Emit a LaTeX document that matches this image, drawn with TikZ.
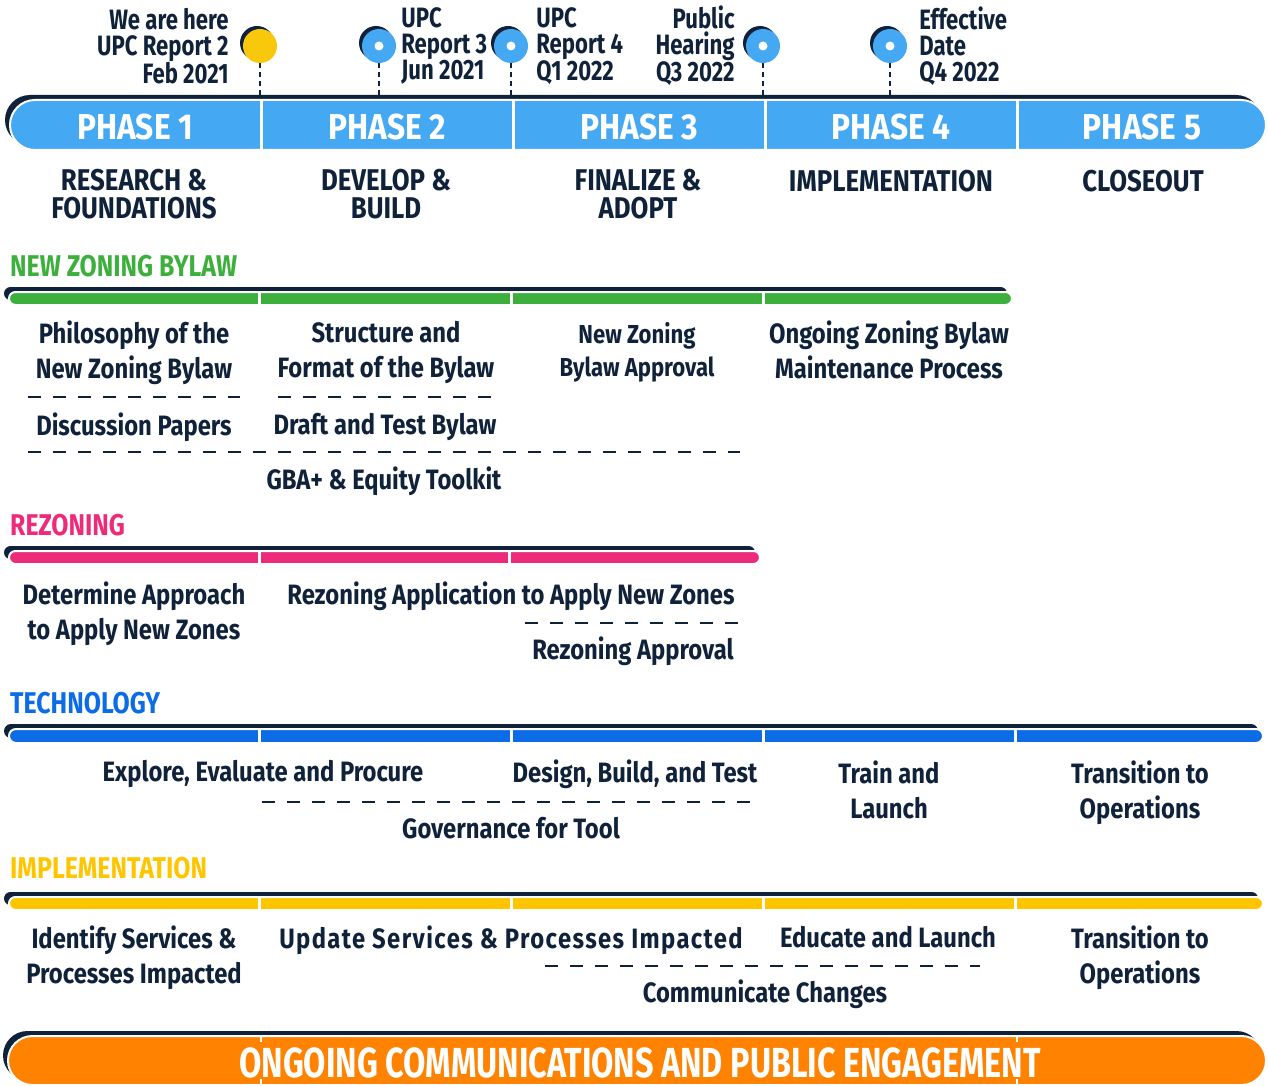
\documentclass[tikz,border=0pt]{standalone}
\usepackage{fontspec}
\setmainfont{Fira Sans}[FakeStretch=0.85]
\usetikzlibrary{positioning}

\definecolor{ink}{HTML}{10223A}
\definecolor{phaseblue}{HTML}{45A8F2}
\definecolor{zgreen}{HTML}{3CAF3C}
\definecolor{rpink}{HTML}{EC2B7B}
\definecolor{tblue}{HTML}{0B6CE6}
\definecolor{iyellow}{HTML}{FFC600}
\definecolor{corange}{HTML}{FF8300}
\definecolor{sun}{HTML}{F9C70C}

\tikzset{
  phasetxt/.style={font=\fontsize{36}{36}\selectfont\bfseries\addfontfeature{FakeStretch=0.88}, text=white, anchor=base, inner sep=0},
  phasedesc/.style={font=\fontsize{30}{28}\selectfont\bfseries\addfontfeature{FakeStretch=0.86}, text=ink, align=center, anchor=north, inner sep=0},
  section/.style={font=\fontsize{30}{30}\selectfont\bfseries\addfontfeature{FakeStretch=0.83}, anchor=base west, inner sep=0},
  task/.style={font=\fontsize{28}{35}\selectfont\bfseries, text=ink, align=center, anchor=north, inner sep=0},
  smalltask/.style={task, font=\fontsize{26}{33}\selectfont\bfseries},
  msdate/.style={font=\fontsize{28}{26}\selectfont\bfseries\addfontfeature{FakeStretch=0.79}, text=ink, inner sep=0},
  milestone/.style={circle, minimum size=34pt, inner sep=0},
  sep/.style={ink, line width=2pt, dash pattern=on 13pt off 12pt},
  drop/.style={ink, line width=2pt, dash pattern=on 5pt off 4pt},
  divider/.style={white, line width=3pt}
}

% rounded track with dark offset edge: x1 y1 x2 y2 colour
\newcommand\trackbar[5]{%
  \pgfmathsetmacro\rr{(#4-#2)/2}%
  \fill[ink, rounded corners=\rr pt] (#1-5,#2-5) rectangle (#3-5,#4-5);
  \draw[white, line width=2pt, fill=#5, rounded corners=\rr pt] (#1,#2) rectangle (#3,#4);
}

\begin{document}
\begin{tikzpicture}[x=1pt,y=-1pt]
  \useasboundingbox (0,0) rectangle (1268,1086);

  % phases
  \trackbar{10}{100}{1266}{150}{phaseblue}
  \foreach \dx in {261,513,765,1017}
    \draw[divider] (\dx,100) -- (\dx,150);
  \coordinate (bartop) at (0,99);
  \foreach \px/\pn in {135/1,387/2,639/3,891/4,1142/5}
    \node[phasetxt] (p\pn) at (\px,140) {PHASE \pn};

  \node[phasedesc] (d1) at (134,169) {RESEARCH \&\\FOUNDATIONS};
  \node[phasedesc] (d2) at (386,169) {DEVELOP \&\\BUILD};
  \node[phasedesc] (d3) at (638,169) {FINALIZE \&\\ADOPT};
  \node[phasedesc] (d4) at (891,170) {IMPLEMENTATION};
  \node[phasedesc] (d5) at (1143,170) {CLOSEOUT};

  % milestones
  \foreach \mx/\mc/\md [count=\i] in {260/sun/sun,379/phaseblue/white,511/phaseblue/white,763/phaseblue/white,890/phaseblue/white}{
    \fill[ink] (\mx-3,43) circle (17pt);
    \node[milestone, fill=\mc] (m\i) at (\mx,46) {};
    \fill[\md] (m\i) circle (4.5pt);
    \draw[drop] (m\i.south) -- (m\i.south |- bartop);
  }
  \node[msdate, align=right, left=14pt of m1] (l1) {We are here\\UPC Report 2\\Feb 2021};
  \node[msdate, align=left, right=5pt of m2] (l2) {UPC\\Report 3\\Jun 2021};
  \node[msdate, align=left, right=8pt of m3] (l3) {UPC\\Report 4\\Q1 2022};
  \node[msdate, align=right, left=11pt of m4] (l4) {Public\\Hearing\\Q3 2022};
  \node[msdate, align=left, right=12pt of m5] (l5) {Effective\\Date\\Q4 2022};

  % new zoning bylaw
  \node[section, text=zgreen] (s1) at (10,276) {NEW ZONING BYLAW};
  \trackbar{9}{292}{1012}{305}{zgreen}
  \foreach \dx in {259,511,763}
    \draw[divider] (\dx,292) -- (\dx,305);
  \node[task] (z1) at (134,321) {Philosophy of the\\New Zoning Bylaw};
  \node[task] (z2) at (386,321) {Structure and\\Format of the Bylaw};
  \node[smalltask] (z3) at (637,322) {New Zoning\\Bylaw Approval};
  \node[task] (z4) at (889,321) {Ongoing Zoning Bylaw\\Maintenance Process};
  \draw[sep] (28,397) -- (240,397);
  \draw[sep] (278,397) -- (494,397);
  \node[task] (z5) at (134,413) {Discussion Papers};
  \node[task] (z6) at (385,413) {Draft and Test Bylaw};
  \draw[sep] (28,452) -- (740,452);
  \node[task] (z7) at (384,467) {GBA+ \& Equity Toolkit};

  % rezoning
  \node[section, text=rpink] (s2) at (10,535) {REZONING};
  \trackbar{9}{551}{760}{564}{rpink}
  \foreach \dx in {259,509}
    \draw[divider] (\dx,551) -- (\dx,564);
  \node[task] (r1) at (134,582) {Determine Approach\\to Apply New Zones};
  \node[task] (r2) at (511,582) {Rezoning Application to Apply New Zones};
  \draw[sep] (525,623) -- (740,623);
  \node[task] (r3) at (633,637) {Rezoning Approval};

  % technology
  \node[section, text=tblue] (s3) at (10,713) {TECHNOLOGY};
  \trackbar{9}{729}{1263}{743}{tblue}
  \foreach \dx in {259,511,763,1015}
    \draw[divider] (\dx,729) -- (\dx,743);
  \node[task] (t1) at (263,760) {Explore, Evaluate and Procure};
  \node[task] (t2) at (635,760) {Design, Build, and Test};
  \node[task] (t3) at (889,761) {Train and\\Launch};
  \node[task] (t4) at (1140,761) {Transition to\\Operations};
  \draw[sep] (262,802) -- (760,802);
  \node[task] (t5) at (511,817) {Governance for Tool};

  % implementation
  \node[section, text=iyellow] (s4) at (10,878) {IMPLEMENTATION};
  \trackbar{9}{897}{1263}{910}{iyellow}
  \foreach \dx in {259,511,763,1015}
    \draw[divider] (\dx,897) -- (\dx,910);
  \node[task] (i1) at (134,926) {Identify Services \&\\Processes Impacted};
  \node[task, font=\fontsize{28}{35}\selectfont\bfseries\addfontfeature{LetterSpace=5}] (i2) at (511,926) {Update Services \& Processes Impacted};
  \node[task] (i3) at (888,926) {Educate and Launch};
  \node[task] (i4) at (1140,926) {Transition to\\Operations};
  \draw[sep] (545,966) -- (980,966);
  \node[task] (i5) at (765,980) {Communicate Changes};

  % ongoing engagement
  \trackbar{8}{1036}{1266}{1085}{corange}
  \foreach \dx in {261,1017}{
    \draw[white, line width=1.5pt] (\dx,1036) -- (\dx,1042);
    \draw[white, line width=1.5pt] (\dx,1079) -- (\dx,1085);
  }
  \node[phasetxt, font=\fontsize{42}{42}\selectfont\bfseries\addfontfeature{FakeStretch=0.77}] (eng) at (640,1077) {ONGOING COMMUNICATIONS AND PUBLIC ENGAGEMENT};
\end{tikzpicture}
\end{document}
